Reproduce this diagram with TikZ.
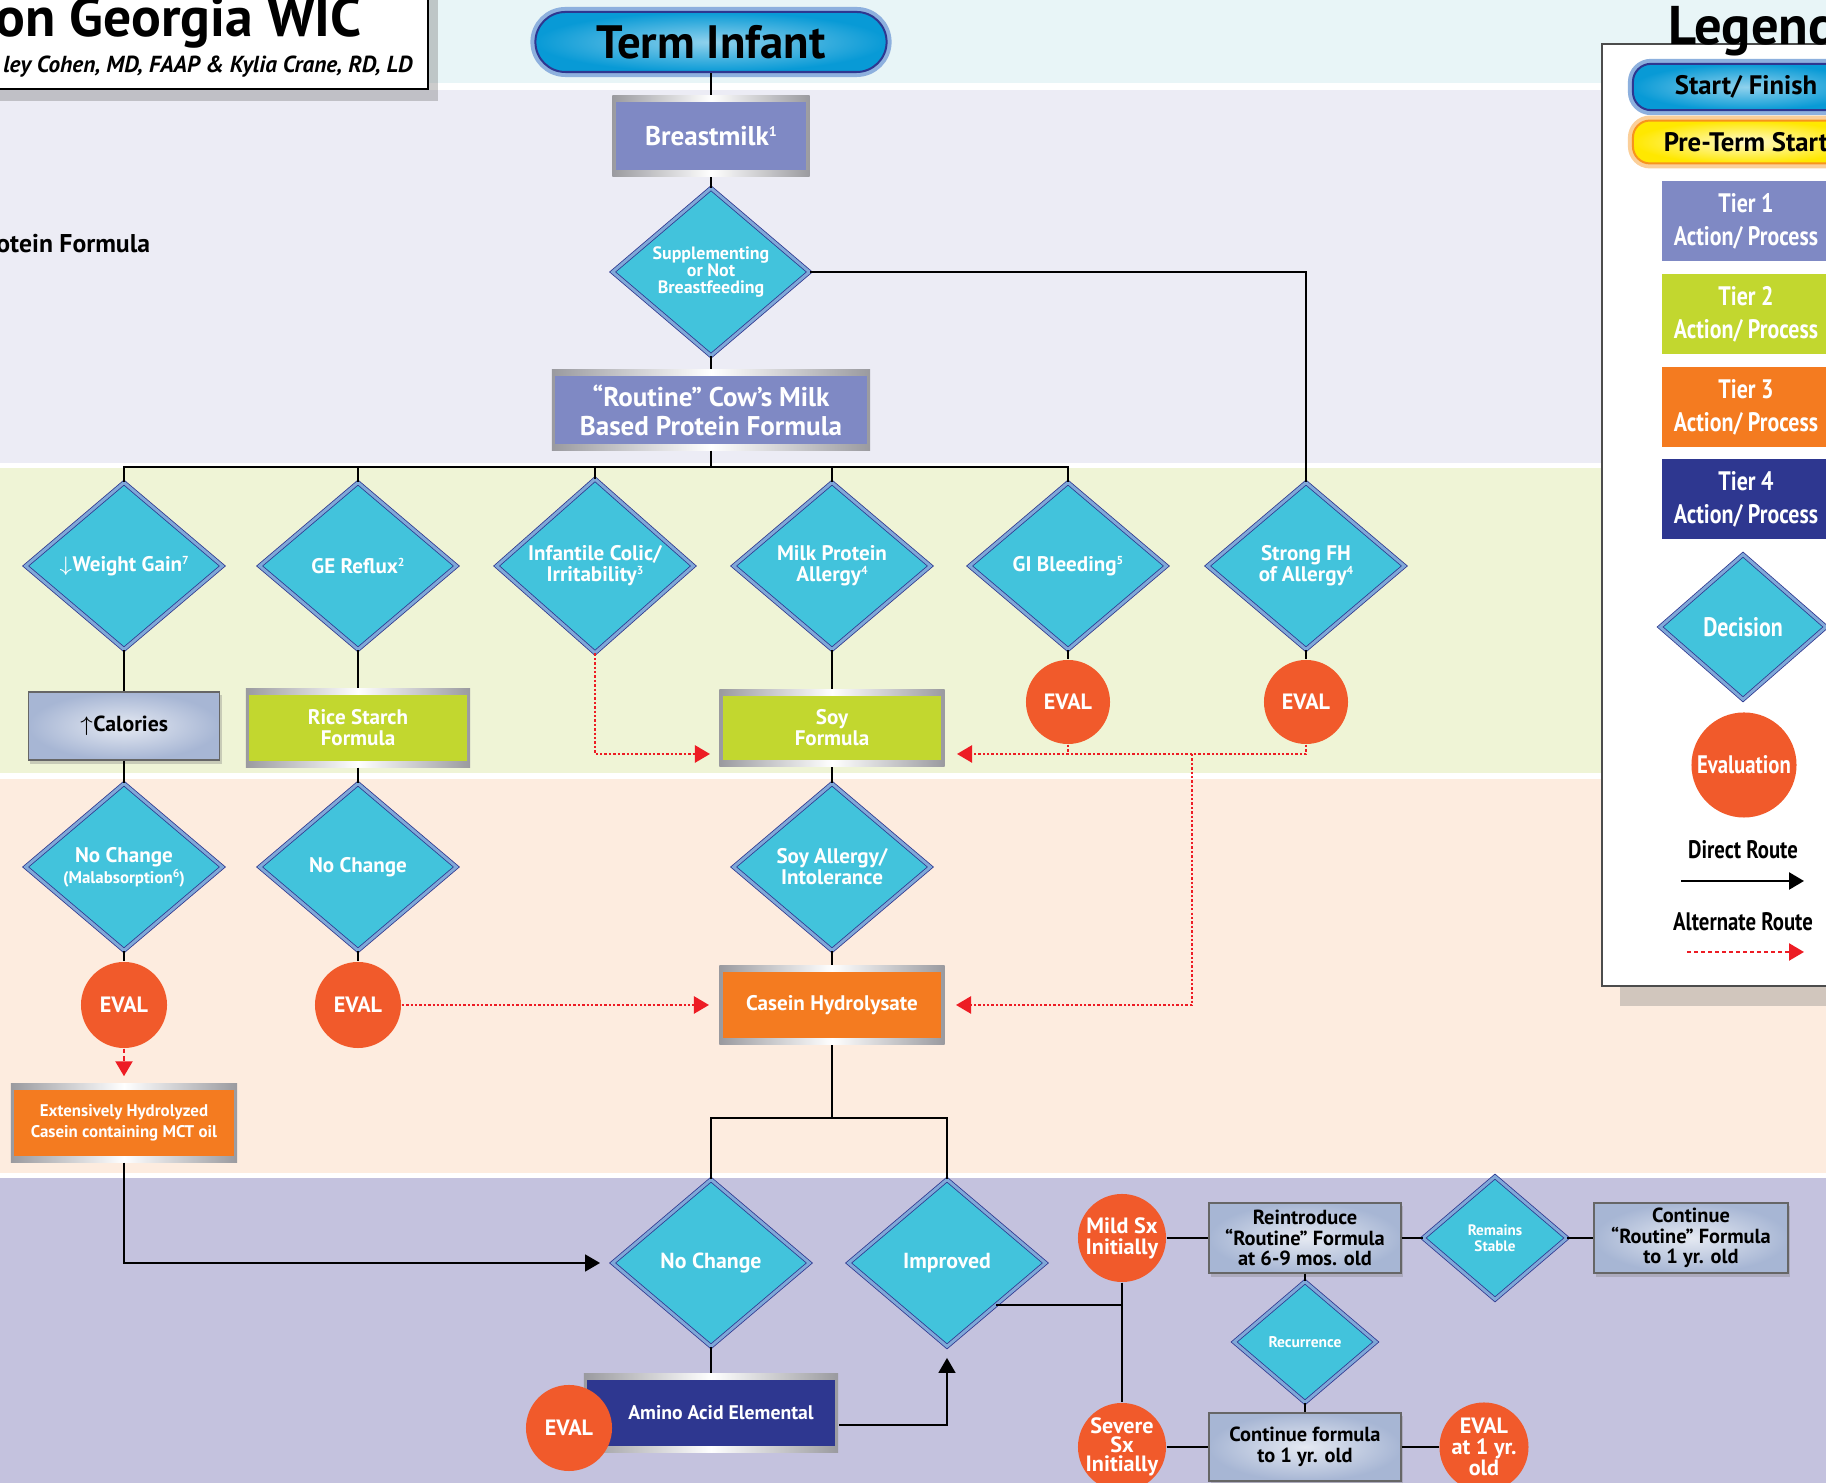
\documentclass[tikz,border=0pt]{standalone}
\usepackage{fontspec}
\setmainfont{PT Sans}
\newfontfamily\narrowfont{PT Sans}[FakeStretch=0.82]
\usetikzlibrary{shapes.geometric,arrows.meta,shadows}
\definecolor{skyband}{HTML}{E8F5F7}
\definecolor{lilacband}{HTML}{ECECF5}
\definecolor{limeband}{HTML}{EFF4D6}
\definecolor{peachband}{HTML}{FDECDF}
\definecolor{plumband}{HTML}{C4C2DE}
\definecolor{decfill}{HTML}{42C3DC}
\definecolor{decrim}{HTML}{80A8D8}
\definecolor{navy}{HTML}{2E3790}
\definecolor{evalred}{HTML}{F15A2B}
\definecolor{tierone}{HTML}{7F89C4}
\definecolor{tiertwo}{HTML}{C2D72F}
\definecolor{tierthree}{HTML}{F47B20}
\definecolor{tierfour}{HTML}{2E3790}
\definecolor{metal}{HTML}{9A9A9F}
\definecolor{altred}{HTML}{ED1C24}
\definecolor{pillblue}{HTML}{089AD6}
\definecolor{pillrim}{HTML}{8DB0DE}
\definecolor{preyellow}{HTML}{FFE800}
\definecolor{preorange}{HTML}{F7941D}
\definecolor{steel}{HTML}{A7B6D4}
\newcommand{\fsz}[2]{\fontsize{#1}{#2}\selectfont\bfseries\lineskiplimit=-10pt}
\newcommand{\supnum}[1]{\raisebox{0.33em}{\fontsize{3.3}{3}\selectfont #1}}

\tikzset{
  decision/.style={diamond, fill=decfill, draw=navy, double=decrim,
    double distance=0.03cm, line width=0.008cm, inner sep=0pt,
    minimum width=1.97cm, minimum height=1.67cm, text=white, align=center,
    font=\fsz{6}{6}},
  evalnode/.style={circle, fill=evalred, text=white, inner sep=0pt,
    minimum size=0.86cm, align=center, font=\fsz{6.3}{6}},
  tierbox/.style={rectangle, left color=metal, right color=metal,
    middle color=white, text=white, align=center, inner sep=0pt,
    path picture={\fill[#1] ([xshift=0.035cm,yshift=-0.065cm]path picture bounding box.north west)
      rectangle ([xshift=-0.035cm,yshift=0.065cm]path picture bounding box.south east);}},
  steelbox/.style={rectangle, inner color=white!70!steel, outer color=steel,
    draw=black!60, line width=0.012cm, align=center, inner sep=0pt,
    font=\fsz{5.8}{5.8},
    drop shadow={shadow xshift=0.02cm, shadow yshift=-0.035cm, opacity=0.35}},
  startpill/.style={rectangle, inner color=white!55!pillblue, outer color=pillblue,
    draw=navy, line width=0.02cm, preaction={draw=pillrim, line width=0.1cm}},
  prepill/.style={rectangle, inner color=white!80!preyellow, outer color=preyellow,
    draw=preorange, line width=0.02cm, preaction={draw=preorange!45!white, line width=0.1cm}},
  legtier/.style={rectangle, fill=#1, text=white, minimum width=1.68cm,
    minimum height=0.8cm, align=center, font=\narrowfont\fsz{7.6}{9.4}},
  route/.style={line width=0.018cm},
  altroute/.style={altred, line width=0.024cm, dash pattern=on 0.024cm off 0.02cm},
  tip/.style={-{Triangle[length=0.15cm,width=0.17cm]}}
}

\begin{document}
\begin{tikzpicture}[x=0.01cm, y=-0.01cm]
\useasboundingbox (0,0) rectangle (1826,1483);
\clip (0,0) rectangle (1826,1483);
% bands
\fill[white] (0,0) rectangle (1826,1483);
\fill[skyband] (0,0) rectangle (1826,83);
\fill[lilacband] (0,90) rectangle (1826,463);
\fill[limeband] (0,468) rectangle (1826,773);
\fill[peachband] (0,779) rectangle (1826,1173);
\fill[plumband] (0,1178) rectangle (1826,1483);

% title box
\draw[fill=white, line width=0.02cm, drop shadow={shadow xshift=0.1cm, shadow yshift=-0.12cm, opacity=0.4}] (-20,-20) rectangle (428,89);
\node[anchor=base west, font=\fsz{15.8}{16}] (ttl) at (-17,37) {on Georgia WIC};
\node[anchor=base west, font=\fsz{6.6}{7}\itshape] (auth) at (-9,73) {ley Cohen, MD, FAAP \& Kylia Crane, RD, LD};
\node[anchor=base west, font=\fsz{7.3}{8}] (side) at (-16,253) {otein Formula};

% legend
\draw[fill=white, draw=black!70, line width=0.015cm, drop shadow={shadow xshift=0.18cm, shadow yshift=-0.2cm, opacity=0.35}] (1602,44) rectangle (1900,986);
\node[anchor=base west, font=\fsz{15.5}{16}] (leg) at (1656,45) {Legend};
\node[startpill, rounded corners=0.18cm, minimum width=2.26cm, minimum height=0.37cm, font=\fsz{7.6}{8}] (lstart) at (1746,87) {Start/ Finish};
\node[prepill, rounded corners=0.17cm, minimum width=2.26cm, minimum height=0.35cm, font=\fsz{7.6}{8}] (lpre) at (1746,142) {Pre-Term Start};
\node[legtier=tierone] (lt1) at (1746,221) {Tier 1\\Action/ Process};
\node[legtier=tiertwo] (lt2) at (1746,314) {Tier 2\\Action/ Process};
\node[legtier=tierthree] (lt3) at (1746,407) {Tier 3\\Action/ Process};
\node[legtier=tierfour] (lt4) at (1746,499) {Tier 4\\Action/ Process};
\node[decision, minimum width=1.66cm, minimum height=1.45cm, font=\narrowfont\fsz{7.6}{8}] (ldec) at (1743,627) {Decision};
\node[evalnode, minimum size=1.05cm, font=\narrowfont\fsz{7.2}{8}] (leval) at (1744,765) {Evaluation};
\node[font=\narrowfont\fsz{7.2}{8}] (ldir) at (1743,850) {Direct Route};
\node[font=\narrowfont\fsz{7.2}{8}] (lalt) at (1743,922) {Alternate Route};
\coordinate (dra) at (1681,881);
\coordinate (drb) at (1804,881);
\coordinate (ala) at (1687,952);
\coordinate (alb) at (1804,952);
\draw[line width=0.025cm, tip] (dra) -- (drb);
\draw[altroute, dash pattern=on 0.04cm off 0.03cm, tip] (ala) -- (alb);

% start and tier 1
\node[startpill, rounded corners=0.3cm, minimum width=3.51cm, minimum height=0.6cm, font=\fsz{13.3}{14}] (term) at (711,42) {Term Infant};
\node[tierbox=tierone, minimum width=1.97cm, minimum height=0.81cm, font=\fsz{7.7}{8}] (milk) at (711,136) {Breastmilk\raisebox{0.33em}{\fontsize{4}{4}\selectfont 1}};
\node[decision, font=\fsz{5.1}{4.9}] (sup) at (711,272) {Supplementing\\or Not\\Breastfeeding};
\node[tierbox=tierone, minimum width=3.18cm, minimum height=0.8cm, font=\fsz{7.7}{8.3}] (cow) at (711,410) {“Routine” Cow’s Milk\\Based Protein Formula};

% first decisions
\node[decision] (wg) at (124,566) {$\downarrow$Weight Gain\supnum{7}};
\node[decision] (ge) at (358,566) {GE Reflux\supnum{2}};
\node[decision] (colic) at (595,566) {Infantile Colic/\\Irritability\supnum{3}};
\node[decision] (mpa) at (832,566) {Milk Protein\\Allergy\supnum{4}};
\node[decision] (gi) at (1068,566) {GI Bleeding\supnum{5}};
\node[decision] (fh) at (1306,566) {Strong FH\\of Allergy\supnum{4}};

% tier 2
\node[steelbox, minimum width=1.91cm, minimum height=0.68cm, font=\fsz{6.2}{6.2}, text=black] (cal) at (124,726) {$\uparrow$Calories};
\node[tierbox=tiertwo, minimum width=2.24cm, minimum height=0.78cm, font=\fsz{6}{6}] (rice) at (358,728) {Rice Starch\\Formula};
\node[tierbox=tiertwo, minimum width=2.25cm, minimum height=0.77cm, font=\fsz{6}{6}] (soy) at (832,728) {Soy\\Formula};
\node[evalnode, minimum size=0.84cm] (evgi) at (1068,702) {EVAL};
\node[evalnode, minimum size=0.84cm] (evfh) at (1306,702) {EVAL};

% tier 3
\node[decision] (nc1) at (124,867) {No Change\\{\fsz{4.8}{5.5}(Malabsorption\supnum{6})}};
\node[decision] (nc2) at (358,867) {No Change};
\node[decision] (sal) at (832,867) {Soy Allergy/\\Intolerance};
\node[evalnode] (ev1) at (124,1005) {EVAL};
\node[evalnode] (ev2) at (358,1005) {EVAL};
\node[tierbox=tierthree, minimum width=2.26cm, minimum height=0.78cm, font=\fsz{4.8}{6}] (ehc) at (124,1123) {Extensively Hydrolyzed\\Casein containing MCT oil};
\node[tierbox=tierthree, minimum width=2.25cm, minimum height=0.79cm, font=\fsz{6}{6}] (cas) at (832,1005) {Casein Hydrolysate};

% tier 4
\node[decision, font=\fsz{6.2}{6}] (nc3) at (711,1263) {No Change};
\node[decision, font=\fsz{6.2}{6}] (imp) at (947,1263) {Improved};
\node[tierbox=tierfour, minimum width=2.54cm, minimum height=0.78cm, font=\fsz{5.6}{6}] (amino) at (711,1413) {\hspace{0.2cm}Amino Acid Elemental};
\node[evalnode] (ev3) at (569,1428) {EVAL};
\node[evalnode, minimum size=0.88cm] (mild) at (1122,1238) {Mild Sx\\Initially};
\node[evalnode, minimum size=0.88cm, inner sep=-1.5pt, font=\fsz{6.3}{5.5}] (severe) at (1122,1447) {Severe\\Sx\\Initially};
\node[steelbox, minimum width=1.92cm, minimum height=0.7cm] (reint) at (1305,1238) {Reintroduce\\“Routine” Formula\\at 6-9 mos. old};
\node[decision, minimum width=1.44cm, minimum height=1.23cm, font=\fsz{4.3}{4.6}] (stable) at (1495,1238) {Remains\\Stable};
\node[steelbox, minimum width=1.94cm, minimum height=0.7cm] (cont) at (1691,1238) {Continue\\“Routine” Formula\\to 1 yr. old};
\node[decision, minimum width=1.42cm, minimum height=1.21cm, font=\fsz{4.4}{4.6}] (recur) at (1305,1342) {Recurrence};
\node[steelbox, minimum width=1.92cm, minimum height=0.68cm] (contf) at (1305,1447) {Continue formula\\to 1 yr. old};
\node[evalnode, minimum size=0.89cm] (ev4) at (1484,1447) {EVAL\\at 1 yr.\\old};

% direct routes
\coordinate (bus) at (711,467);
\coordinate (split) at (832,1118);
\draw[route] (term) -- (milk);
\draw[route] (milk) -- (sup);
\draw[route] (sup) -- (cow);
\draw[route] (cow) -- (bus);
\draw[route] (sup.east) -| (fh.north);
\draw[route] (wg.north) |- (bus) -| (gi.north);
\foreach \d in {ge,colic,mpa}
  \draw[route] (\d.north) -- (\d.north |- bus);
\foreach \a/\b in {wg/cal, cal/nc1, ge/rice, rice/nc2, mpa/soy, soy/sal, sal/cas,
    gi/evgi, fh/evfh, nc1/ev1, nc2/ev2, nc3/amino, mild/severe, mild/reint,
    reint/stable, stable/cont, reint/recur, recur/contf, severe/contf, contf/ev4}
  \draw[route] (\a) -- (\b);
\draw[route] (cas) -- (split);
\draw[route] (nc3.north) |- (split) -| (imp.north);
\draw[route, tip] (ehc.south) |- ([xshift=-0.12cm]nc3.west);
\draw[route, tip] ([yshift=-0.12cm]amino.east) -| ([yshift=-0.11cm]imp.south);
\draw[route] (imp.south east) -- (imp.south east -| mild);

% alternate routes
\coordinate (soyin) at (710,754);
\coordinate (soyout) at (957,754);
\coordinate (fork) at (1192,754);
\coordinate (casin) at (709,1005);
\coordinate (casout) at (956,1005);
\draw[altroute, tip] (colic.south) |- (soyin);
\draw[altroute] (evgi.south) -- (evgi.south |- soyout);
\draw[altroute, tip] (evfh.south) |- (soyout);
\draw[altroute, tip] (fork) |- (casout);
\draw[altroute, tip] (ev2) -- (casin);
\draw[altroute, dash pattern=on 0.045cm off 0.03cm, tip, shorten >=0.07cm] (ev1) -- (ehc);
\end{tikzpicture}
\end{document}
